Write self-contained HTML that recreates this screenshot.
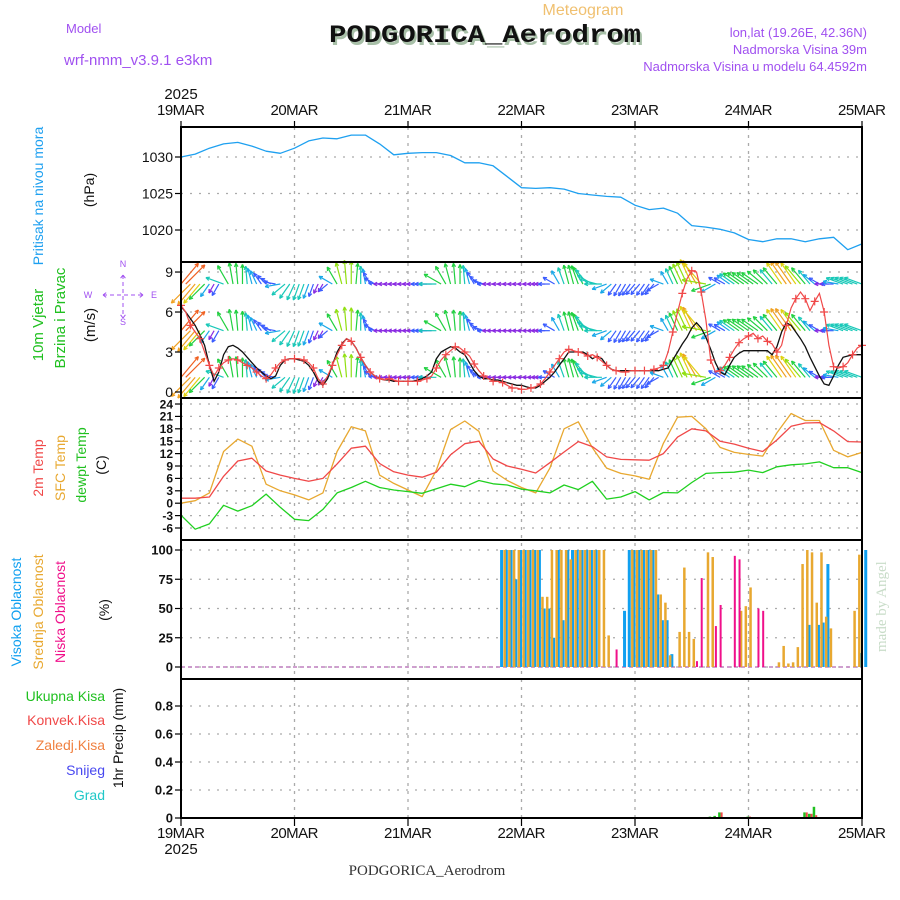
<!DOCTYPE html>
<html><head><meta charset="utf-8"><style>
html,body{margin:0;padding:0;background:#fff;}
svg{display:block;font-family:"Liberation Sans",sans-serif;}
</style></head><body>
<svg id="chart" width="900" height="900" viewBox="0 0 900 900" xmlns="http://www.w3.org/2000/svg">
<g id="texts">
<text x="583" y="15" font-size="16" fill="#f0c070" text-anchor="middle">Meteogram</text>
<text x="331" y="45" font-size="25" font-weight="bold" font-family="'Liberation Mono',monospace" fill="#a8c0a8" textLength="312" lengthAdjust="spacingAndGlyphs">PODGORICA_Aerodrom</text>
<text x="329" y="42" font-size="25" font-weight="bold" font-family="'Liberation Mono',monospace" fill="#111" textLength="312" lengthAdjust="spacingAndGlyphs">PODGORICA_Aerodrom</text>
<text x="66" y="33" font-size="13" fill="#a050f0">Model</text>
<text x="64" y="65" font-size="15" fill="#a050f0">wrf-nmm_v3.9.1 e3km</text>
<text x="867" y="37" font-size="13" fill="#a050f0" text-anchor="end">lon,lat (19.26E, 42.36N)</text>
<text x="867" y="54" font-size="13" fill="#a050f0" text-anchor="end">Nadmorska Visina 39m</text>
<text x="867" y="71" font-size="13" fill="#a050f0" text-anchor="end">Nadmorska Visina u modelu 64.4592m</text>
<text x="427" y="875" font-size="15" font-family="'Liberation Serif',serif" fill="#333" text-anchor="middle">PODGORICA_Aerodrom</text>
<text transform="translate(886,652) rotate(-90)" font-size="15" font-family="'Liberation Serif',serif" fill="#c8dcc8">made by Angel</text>
</g>
<g id="grid"></g>
<g id="marks"></g>
<g id="axes"></g>
</svg>
<script>
// ---- data ----
const days = ["19MAR","20MAR","21MAR","22MAR","23MAR","24MAR","25MAR"];
const pressTicks = [1020,1025,1030];
const windTicks = [0,3,6,9];
const tempTicks = [-6,-3,0,3,6,9,12,15,18,21,24];
const cloudTicks = [0,25,50,75,100];
const precTicks = [0,0.2,0.4,0.6,0.8];
const precTickLabels = ["0","0.2","0.4","0.6","0.8"];
// 3-hourly series
const pressure = [1030.0,1030.4,1031.2,1031.8,1032.0,1031.5,1030.8,1030.5,
1031.2,1032.2,1032.6,1032.5,1033.0,1033.0,1031.8,1030.3,
1030.5,1030.6,1030.6,1030.2,1029.2,1029.2,1028.8,1027.3,
1025.8,1025.7,1025.8,1025.6,1025.0,1024.8,1024.6,1024.5,
1023.4,1022.8,1023.0,1022.3,1020.6,1020.4,1020.1,1019.6,
1018.7,1018.4,1018.8,1018.8,1018.4,1018.8,1019.0,1017.3,1018.1];
const temp2m = [1.2,1.2,1.5,6.5,10.2,10.9,7.8,6.8,6.0,5.3,6.0,9.5,13.3,13.8,9.6,7.6,6.8,6.3,7.5,11.7,14.4,15.0,10.7,9.0,8.2,7.3,9.8,12.4,14.9,13.7,11.2,10.6,10.5,10.4,12.0,16.0,18.0,17.5,15.0,14.3,13.3,12.5,15.3,18.6,19.4,19.5,17.5,14.9,14.8];
const tempSfc = [0.0,0.6,2.5,12.5,15.5,13.8,4.6,3.0,2.0,0.8,2.5,12.5,18.5,17.5,6.8,4.8,3.2,1.6,8.0,17.8,19.9,17.4,7.8,5.5,3.8,2.5,8.5,18.0,19.7,13.4,8.5,7.2,6.6,5.8,14.5,20.8,21.0,18.0,13.5,12.3,11.8,11.4,17.0,21.7,20.0,20.0,12.8,11.2,12.3];
const dewpt = [-2.9,-6.3,-5.0,-0.5,-1.9,-0.6,2.2,-1.0,-3.9,-4.2,-1.5,2.5,3.8,5.3,3.8,3.2,2.8,2.4,3.5,4.6,4.0,5.5,4.7,4.4,3.4,3.0,2.5,4.4,3.3,5.3,1.0,1.5,2.8,0.8,2.6,2.5,5.0,7.2,7.4,7.5,8.0,7.4,8.8,9.3,9.5,10.0,8.6,8.6,7.4];
// hourly wind
const windSpeed = [6.4,6.0,5.5,5.0,4.3,3.5,2.0,0.8,1.5,2.8,3.4,3.5,3.3,3.0,2.6,2.2,1.8,1.5,1.2,1.0,1.2,2.0,2.4,2.5,
2.5,2.4,2.3,2.0,1.5,0.8,0.5,1.0,2.0,3.0,3.6,4.0,3.8,3.3,2.6,2.0,1.5,1.2,1.0,0.9,0.9,0.8,0.8,0.8,
0.8,0.8,0.9,1.0,1.2,1.5,2.5,3.0,3.2,3.4,3.3,3.0,2.8,2.2,1.6,1.2,1.0,1.0,0.9,0.9,0.8,0.7,0.6,0.5,
0.5,0.4,0.3,0.3,0.5,0.8,1.1,1.5,2.0,2.5,3.0,3.0,3.0,3.0,2.8,2.5,2.7,2.5,2.0,1.7,1.6,1.6,1.6,1.6,
1.6,1.6,1.6,1.6,1.6,1.6,1.7,1.8,2.4,3.0,3.6,4.1,4.8,5.2,4.8,4.1,3.2,2.2,1.5,1.3,2.0,2.6,2.9,3.1,
3.1,3.1,3.1,3.1,3.1,2.8,3.4,4.5,5.2,5.0,4.5,4.0,3.4,2.6,1.9,1.2,0.6,0.5,1.2,2.0,2.6,2.7,2.8,2.8,
2.8];
const windGust = [6.5,6.0,5.0,4.5,4.0,3.0,2.0,1.2,1.8,2.2,2.4,2.5,2.4,2.2,2.0,1.8,1.5,1.2,1.0,1.3,1.8,2.2,2.4,2.5,
2.5,2.5,2.4,2.2,1.8,1.0,0.6,1.2,2.0,2.8,3.5,4.0,3.8,3.3,2.6,2.0,1.5,1.2,1.0,0.9,1.0,0.9,0.8,0.8,
0.8,0.8,0.8,0.9,1.0,1.2,1.8,2.4,2.8,3.1,3.4,3.3,3.0,2.7,2.1,1.6,1.2,1.0,0.8,0.8,0.7,0.5,0.3,0.3,
0.2,0.2,0.3,0.4,0.6,1.0,1.5,2.0,2.5,3.0,3.2,3.1,3.0,2.9,2.7,2.8,2.6,2.3,2.0,1.7,1.6,1.5,1.5,1.6,
1.6,1.6,1.6,1.6,1.7,1.8,2.0,3.0,4.5,6.0,7.4,8.5,9.1,9.0,7.5,5.4,2.4,1.5,1.6,2.0,2.6,3.2,3.7,4.0,
4.2,4.4,4.0,4.2,3.8,3.6,3.0,3.5,5.0,6.3,7.0,7.5,7.0,6.1,6.8,7.4,6.0,3.5,1.9,1.8,1.9,2.2,2.8,3.3,
3.5];
const windDir = [40,45,225,220,220,225,215,210,210,290,330,350,355,0,355,345,335,325,315,300,280,260,230,215,
205,200,200,200,200,205,210,230,300,330,345,355,0,5,0,350,330,300,275,270,270,270,270,270,
270,270,270,270,270,270,270,300,330,345,355,0,355,345,330,310,290,270,270,270,270,270,270,270,
270,270,270,270,270,270,270,300,330,340,345,345,340,330,320,300,285,270,250,230,215,210,210,215,
220,220,215,215,220,240,290,330,335,335,335,335,335,330,320,280,250,240,300,300,305,305,305,305,
305,305,305,310,315,320,320,325,325,325,325,320,320,320,310,300,270,270,270,280,290,290,290,290,
290];
const windRows = [8.1,4.6,1.1];
// clouds (hours 68..144)
const cloudStart = 68;
const cloudHigh = [100,100,100,75,100,100,100,100,100,50,50,25,100,40,100,100,100,100,100,100,100,0,0,0,0,0,48,100,100,100,100,100,100,62,40,40,11,
0,0,0,0,0,0,0,0,0,0,0,0,0,0,0,0,0,0,0,0,0,0,0,0,0,0,0,0,36,0,36,38,88,0,0,0,0,0,0,12,100];
const cloudMid = [100,100,100,100,100,100,100,100,60,60,100,100,100,100,92,100,100,100,100,100,100,100,27,0,0,0,0,100,100,100,100,100,100,62,55,10,0,30,85,30,24,0,0,98,94,0,0,0,0,0,48,52,68,0,0,0,0,0,4,18,3,4,17,88,100,98,55,98,43,33,0,0,0,0,48,96,0];
const cloudLow = [0,0,0,0,0,0,0,0,0,0,0,0,0,0,0,0,0,0,0,0,0,0,0,0,15,0,0,0,0,0,0,0,0,0,0,0,0,0,0,0,0,5,76,0,0,35,53,0,0,95,92,0,0,0,50,48,0,0,0,0,0,0,0,0,0,0,0,0,0,0,0,0,0,0,0,0,0];
// precip
const precHours = [112,113,114,120,132,133,134];
const precTotal = [0.01,0.015,0.04,0.01,0.04,0.03,0.08];
const precConv = [0,0,0.04,0.01,0.04,0.03,0.02];

// ---- scales ----
const X0=181,X1=862;
const X = h => X0 + h*(X1-X0)/144;
const yP = p => 157 - (p-1030)*7.3;
const yW = v => 392 - v*13.33;
const yT = t => 528 - (t+6)*4.133;
const yC = c => 667 - c*1.17;
const yR = r => 818 - r*140;
const NS="http://www.w3.org/2000/svg";
const grid=document.getElementById('grid'), marks=document.getElementById('marks'), axes=document.getElementById('axes');
function mk(tag, attrs, parent){const e=document.createElementNS(NS,tag);for(const k in attrs)e.setAttribute(k,attrs[k]);parent.appendChild(e);return e;}
function txt(parent,x,y,s,size,fill,anchor,extra){const e=mk('text',Object.assign({x:x,y:y,'font-size':size,fill:fill,'text-anchor':anchor||'start'},extra||{}),parent);e.textContent=s;return e;}

const panels=[[127,262,'pressure-panel'],[262,398,'wind-panel'],[398,540,'temperature-panel'],[540,679,'cloud-panel'],[679,818,'precip-panel']];
for(let d=1;d<6;d++){
  const l=mk('line',{x1:X(d*24),x2:X(d*24),y1:127,y2:818,stroke:'#aaa','stroke-width':1.3,'stroke-dasharray':'3,5'},grid);
  
  
}
function hgrid(vals,f,name){vals.forEach(v=>{const l=mk('line',{x1:X0,x2:X1,y1:f(v),y2:f(v),stroke:'#aaa','stroke-width':1.3,'stroke-dasharray':'2,7'},grid);
  
  });}
hgrid(pressTicks,yP,'pressure-gridline');
hgrid(windTicks,yW,'wind-gridline');
hgrid(tempTicks,yT,'temp-gridline');
hgrid(cloudTicks,yC,'cloud-gridline');
hgrid(precTicks.slice(1),yR,'precip-gridline');

function line3h(arr,f,color,name,w){
  const pts=arr.map((v,i)=>X(i*3).toFixed(1)+','+f(v).toFixed(1)).join(' ');
  const p=mk('polyline',{points:pts,fill:'none',stroke:color,'stroke-width':w||1.3,'stroke-linejoin':'round'},marks);
  
  
}
line3h(pressure,yP,'#1ea0f0','pressure-line');
line3h(tempSfc,yT,'#e8a830','sfc-temp-line');
line3h(temp2m,yT,'#f04848','temp-2m-line');
line3h(dewpt,yT,'#20d020','dewpoint-line');

function wcol(s){return s<1?'#8a2be2':s<1.7?'#3a5cff':s<2.3?'#1aa8e8':s<2.9?'#18c8b8':s<3.6?'#20d040':s<4.2?'#90e010':s<4.9?'#e0d010':s<5.6?'#f0a020':'#f06020';}
windRows.forEach(r=>{
  const by=yW(r);
  windSpeed.forEach((s,i)=>{
    const L=Math.min(27,7+s*4.2), a=windDir[i]*Math.PI/180;
    const x0=X(i), x1=x0+L*Math.sin(a), y1=by-L*Math.cos(a);
    const c=wcol(s);
    const g=mk('g',{stroke:c,'stroke-width':1.2,fill:'none'},marks);
    
    
    mk('line',{x1:x0,y1:by,x2:x1,y2:y1},g);
    const h=4;
    [a+Math.PI-0.45,a+Math.PI+0.45].forEach(b=>mk('line',{x1:x1,y1:y1,x2:x1+h*Math.sin(b),y2:y1-h*Math.cos(b)},g));
  });
});
{
  const p=mk('polyline',{points:windSpeed.map((v,i)=>X(i).toFixed(1)+','+yW(v).toFixed(1)).join(' '),fill:'none',stroke:'#111','stroke-width':1.3},marks);
  
  
  const q=mk('polyline',{points:windGust.map((v,i)=>X(i).toFixed(1)+','+yW(v).toFixed(1)).join(' '),fill:'none',stroke:'#f04848','stroke-width':1.2},marks);
  
  
  windGust.forEach((v,i)=>{ if(i%2) return; const x=X(i),y=yW(v);
    const c=mk('path',{d:`M${x-4},${y}H${x+4}M${x},${y-4}V${y+4}`,stroke:'#f04848','stroke-width':1.2},marks);
    
    });
}
{
  const b=mk('line',{x1:X0,x2:X1,y1:yC(0),y2:yC(0),stroke:'#c080c0','stroke-width':1.5,'stroke-dasharray':'4,3'},marks);
  
  
}
function cloudBars(arr,color,dx,w,name){arr.forEach((v,i)=>{ if(!v) return; const x=X(cloudStart+i)+dx;
  const r=mk('rect',{x:x,y:yC(v),width:w,height:yC(0)-yC(v),fill:color},marks);
  
  });}
cloudBars(cloudHigh,'#10a0f0',-2.5,3,'high-cloud-bar');
cloudBars(cloudMid,'#e8a830',0.8,2.5,'mid-cloud-bar');
cloudBars(cloudLow,'#f0108a',-0.5,2,'low-cloud-bar');
precHours.forEach((h,i)=>{
  const x=X(h);
  const g=mk('rect',{x:x-2,y:yR(precTotal[i]),width:2.5,height:yR(0)-yR(precTotal[i]),fill:'#20c020'},marks);
  
  
  if(precConv[i]){const r=mk('rect',{x:x+0.5,y:yR(precConv[i]),width:2,height:yR(0)-yR(precConv[i]),fill:'#f04848'},marks);
  
  }
});

panels.forEach(p=>{const r=mk('rect',{x:X0,y:p[0],width:X1-X0,height:p[1]-p[0],fill:'none',stroke:'#000','stroke-width':2},axes);
  
  });
days.forEach((d,i)=>{
  const x=X(i*24);
  mk('line',{x1:x,x2:x,y1:121,y2:127,stroke:'#000','stroke-width':1.2},axes);
  mk('line',{x1:x,x2:x,y1:818,y2:826,stroke:'#000','stroke-width':1.2},axes);
  const t=txt(axes,x,115,d,15,'#111','middle',{textLength:48});
  
  
  const b=txt(axes,x,838,d,15,'#111','middle',{textLength:48});
  
  
});
{const a=txt(axes,181,99,'2025',15,'#111','middle');


const b=txt(axes,181,854,'2025',15,'#111','middle');

}
function yticks(vals,labels,f,size,bold,name){vals.forEach((v,i)=>{const y=f(v);
  mk('line',{x1:X0-6,x2:X0,y1:y,y2:y,stroke:'#000','stroke-width':1.2},axes);
  const t=txt(axes,X0-8,y+size*0.36,labels[i],size,'#111','end',bold?{'font-weight':'bold'}:{});
  
  });}
yticks(pressTicks,pressTicks.map(String),yP,14,false,'pressure-tick-label');
yticks(windTicks,windTicks.map(String),yW,14,false,'wind-tick-label');
yticks(tempTicks,tempTicks.map(String),yT,12,true,'temp-tick-label');
yticks(cloudTicks,cloudTicks.map(String),yC,13,true,'cloud-tick-label');
yticks(precTicks,precTickLabels,yR,13,true,'precip-tick-label');

function rot(x,y,s,size,fill,name){const t=txt(axes,0,0,s,size,fill,'middle',{transform:`translate(${x},${y}) rotate(-90)`});
  
  }
rot(43,196,'Pritisak na nivou mora',14,'#1ea0f0','pressure-title');
rot(94,190,'(hPa)',14,'#111','pressure-unit');
rot(43,325,'10m Vjetar',15,'#20c020','wind-title-1');
rot(65,318,'Brzina i Pravac',15,'#20c020','wind-title-2');
rot(95,325,'(m/s)',15,'#111','wind-unit');
rot(43,468,'2m Temp',14,'#f04848','temp-2m-title');
rot(65,468,'SFC Temp',14,'#e8a830','sfc-temp-title');
rot(86,465,'dewpt Temp',14,'#20c020','dewpt-title');
rot(106,465,'(C)',14,'#111','temp-unit');
rot(21,612,'Visoka Oblacnost',14,'#10a0f0','high-cloud-title');
rot(43,612,'Srednja Oblacnost',14,'#e8a830','mid-cloud-title');
rot(65,612,'Niska Oblacnost',14,'#f0108a','low-cloud-title');
rot(109,610,'(%)',14,'#111','cloud-unit');
rot(123,738,'1hr Precip (mm)',14,'#111','precip-title');
[['Ukupna Kisa','#20c020',701],['Konvek.Kisa','#f04848',725],['Zaledj.Kisa','#f08040',750],['Snijeg','#4848f0',775],['Grad','#20c8c8',800]].forEach(l=>{
  const t=txt(axes,105,l[2],l[0],14,l[1],'end');
  
  
});
{
  const g=mk('g',{fill:'#a050f0','font-size':9},axes);
  
  
  txt(g,123,267,'N',9,'#a050f0','middle');
  txt(g,123,325,'S',9,'#a050f0','middle');
  txt(g,88,298,'W',9,'#a050f0','middle');
  txt(g,154,298,'E',9,'#a050f0','middle');
  mk('path',{d:'M103,295H143M123,275V318M103,295l4,-3M103,295l4,3M143,295l-4,-3M143,295l-4,3M123,275l-3,4M123,275l3,4M123,318l-3,-4M123,318l3,-4',stroke:'#a050f0','stroke-width':1,'stroke-dasharray':'4,3',fill:'none'},g);
}
</script>
</body></html>
